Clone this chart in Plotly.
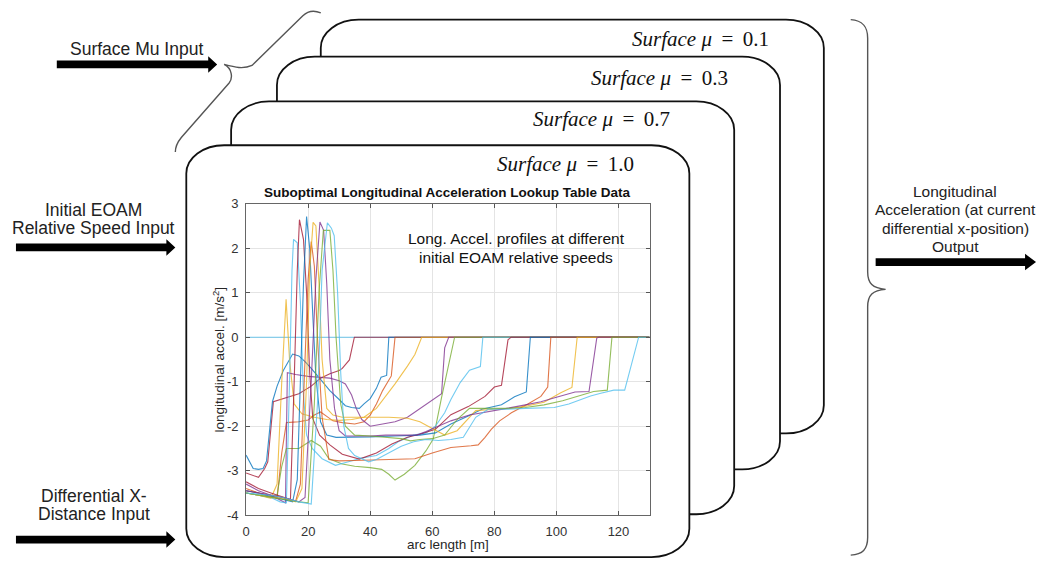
import plotly.graph_objects as go

W, H = 1040, 568

# ---------------- data ----------------
x_ticks = [0, 20, 40, 60, 80, 100, 120]
x_ticklabels = ["0", "20", "40", "60", "80", "100", "120"]
y_ticks = [-4, -3, -2, -1, 0, 1, 2, 3]
y_ticklabels = ["-4", "-3", "-2", "-1", "0", "1", "2", "3"]

zero_x = [0, 130]
zero_y = [0, 0]

s35_x = [0, 2, 4, 6, 7, 8.8, 13, 17, 21, 24, 27, 30, 31, 33.3, 34.9, 130]
s35_y = [-3.05, -3.1, -3.15, -2.95, -2.8, -1.45, -1.35, -1.27, -1.1, -0.92, -0.82, -0.75, -0.7, -0.51, 0, 0]

s46_x = [0, 2.3, 4, 5.5, 6.6, 8.5, 10, 12, 15, 17, 19, 21, 24, 27, 30, 32, 34, 36.5, 38, 40, 42, 43.5, 45.3, 46, 130]
s46_y = [-2.65, -2.95, -2.97, -2.95, -2.78, -1.45, -1.1, -0.75, -0.38, -0.42, -0.55, -0.7, -0.95, -1.2, -1.4, -1.54, -1.58, -1.6, -1.5, -1.38, -1.15, -0.9, -0.86, 0, 0]

s48_x = [0, 4, 8, 10, 11.5, 13, 17, 20, 22, 24, 26, 28, 31, 35, 38, 40, 42, 44, 46.8, 48, 130]
s48_y = [-3.45, -3.5, -3.6, -3.62, -2.6, -1.92, -1.9, -1.86, -1.75, -1.68, -1.78, -1.88, -1.92, -1.95, -1.9, -1.75, -1.5, -1.2, -0.87, 0, 0]

s57_x = [0, 4, 8, 10, 11.5, 12.9, 14, 15.5, 18, 22, 26, 30, 34, 38, 42, 46, 48, 52, 54.4, 56.6, 130]
s57_y = [-3.5, -3.55, -3.62, -3.3, -1.0, 0.85, -0.5, -1.5, -1.72, -1.8, -1.85, -1.87, -1.85, -1.8, -1.6, -1.25, -1.05, -0.65, -0.39, 0, 0]

s66_x = [0, 4, 8, 11, 12.7, 13.3, 16, 20, 24, 27, 30, 32, 34, 35.5, 37.3, 40, 44, 48, 52, 55, 59, 63, 64, 65.3, 130]
s66_y = [-3.3, -3.45, -3.55, -3.65, -3.72, -0.8, -0.84, -0.88, -0.9, -0.92, -0.98, -1.05, -1.3, -1.6, -1.85, -2.0, -1.95, -1.9, -1.8, -1.65, -1.45, -1.27, -0.24, 0, 0]

s67_x = [0, 4, 8, 10, 11.5, 13, 17, 21, 24, 26.7, 31, 35, 40, 43.7, 46, 48, 51, 54.4, 58, 60.3, 63, 67.2, 130]
s67_y = [-3.5, -3.55, -3.6, -3.55, -2.9, -2.5, -2.5, -2.32, -2.45, -2.73, -2.85, -2.9, -2.93, -2.97, -3.08, -3.21, -3.08, -2.88, -2.55, -2.29, -1.35, 0, 0]

s76_x = [0, 4, 8, 11, 13, 14, 14.8, 15.3, 16.5, 17.5, 18.5, 19.5, 21.3, 24.5, 28.8, 33, 37, 42, 46, 49, 54, 58, 61, 64, 66, 69, 72, 75.5, 76.3, 130]
s76_y = [-3.5, -3.55, -3.6, -3.7, -3.72, -1.0, 1.5, 2.2, 2.12, 0.8, -1.3, -2.2, -2.5, -2.73, -2.88, -2.8, -2.72, -2.66, -2.5, -2.35, -2.2, -2.15, -2.0, -1.7, -1.4, -1.02, -0.74, -0.66, 0, 0]

s85_x = [0, 4, 8, 12, 14.3, 15.5, 16.5, 17.2, 18.5, 19.5, 20.5, 21.5, 23.7, 27, 31, 36.5, 42, 47, 52, 56, 61, 66, 71.6, 77, 80, 82.3, 84.4, 85.4, 130]
s85_y = [-3.25, -3.4, -3.5, -3.6, -3.65, -1.0, 1.5, 2.64, 2.2, 1.0, -0.8, -1.83, -2.2, -2.42, -2.63, -2.74, -2.6, -2.4, -2.25, -2.18, -2.07, -1.74, -1.56, -1.33, -1.12, -1.08, -0.06, 0, 0]

s92_x = [0, 4, 8, 12, 15, 16.5, 17.5, 18.5, 19.5, 20.5, 21.5, 22.5, 24, 26, 29, 33, 40, 48, 56, 61, 66, 71.6, 76, 82.3, 86.5, 90.3, 91.6, 130]
s92_y = [-3.45, -3.5, -3.58, -3.65, -3.7, -3.2, -1.0, 1.2, 2.71, 2.0, 0.5, -0.9, -1.9, -2.2, -2.25, -2.25, -2.24, -2.22, -2.2, -2.15, -1.95, -1.77, -1.62, -1.52, -1.34, -1.23, 0, 0]

s98_x = [0, 4, 8, 12, 16, 17.5, 19, 20, 21, 22, 23, 24.5, 26.7, 30, 35, 40, 45, 50, 54.4, 60, 66, 72.5, 74.8, 77, 79, 81.7, 85.5, 90.8, 95, 97.2, 98.2, 130]
s98_y = [-3.4, -3.5, -3.55, -3.6, -3.68, -3.3, -0.5, 1.3, 2.15, 1.6, 0.0, -1.8, -2.75, -2.78, -2.77, -2.76, -2.75, -2.74, -2.73, -2.6, -2.48, -2.44, -2.42, -2.25, -2.07, -1.88, -1.7, -1.5, -1.33, -1.12, 0, 0]

s107_x = [0, 4, 8, 12, 16, 18, 19.5, 20.5, 21.6, 22.5, 23.5, 24.5, 26, 28, 31, 36, 40, 46, 52, 56, 60, 64, 68, 74, 80, 85, 90, 96, 101.4, 105, 106.7, 130]
s107_y = [-3.5, -3.55, -3.6, -3.62, -3.7, -3.4, -1.0, 1.5, 2.58, 2.5, 1.2, -0.5, -1.6, -1.75, -1.8, -1.8, -1.8, -1.8, -1.82, -1.9, -2.05, -2.2, -2.1, -1.65, -1.62, -1.6, -1.55, -1.46, -1.25, -1.13, 0, 0]

s114_x = [0, 4, 8, 12, 17, 19, 21, 22.5, 23.8, 25, 26, 27, 28.5, 30, 32, 36, 40, 45, 50, 55, 58, 62, 66, 72, 78, 84, 90, 95, 100, 104, 106, 110.5, 113, 113.7, 130]
s114_y = [-3.45, -3.5, -3.55, -3.6, -3.7, -3.6, -1.0, 1.3, 2.59, 2.4, 1.2, -0.5, -1.6, -2.1, -2.22, -2.22, -2.22, -2.2, -2.2, -2.2, -2.12, -2.0, -1.88, -1.75, -1.68, -1.6, -1.52, -1.45, -1.35, -1.27, -1.23, -1.22, -0.02, 0, 0]

s118_x = [0, 4, 8, 12, 17, 20, 22, 23.5, 24.9, 27, 28, 29, 30.5, 32, 35, 40, 45, 50, 53, 56, 60, 64, 68, 72, 78, 84, 90, 96, 102, 108, 112, 116.4, 117.9, 130]
s118_y = [-3.5, -3.55, -3.6, -3.65, -3.7, -3.72, -1.5, 1.0, 2.4, 2.4, 1.5, 0.0, -1.5, -2.0, -2.2, -2.22, -2.25, -2.28, -2.33, -2.3, -2.28, -2.2, -1.85, -1.6, -1.6, -1.6, -1.58, -1.52, -1.43, -1.3, -1.22, -1.19, 0, 0]

s127_x = [0, 4, 8, 12, 17, 21, 23, 24.5, 26.2, 27.5, 28.4, 29.5, 30.5, 31.5, 33, 35, 39.5, 42, 46, 50, 54, 58, 62, 66, 70, 74, 78, 84, 90, 96, 99.3, 104, 107.8, 111, 114.3, 118.5, 122, 126.5, 130]
s127_y = [-3.5, -3.52, -3.55, -3.6, -3.7, -3.75, -1.5, 1.5, 2.57, 2.45, 2.28, 1.0, -0.8, -2.0, -2.5, -2.66, -2.8, -2.75, -2.6, -2.45, -2.35, -2.3, -2.32, -2.3, -2.25, -1.8, -1.62, -1.62, -1.6, -1.59, -1.58, -1.5, -1.41, -1.32, -1.26, -1.19, -1.19, 0, 0]

MATLAB = {"blue": "#0072BD", "orange": "#D95319", "yellow": "#EDB120",
          "purple": "#7E2F8E", "green": "#77AC30", "lightblue": "#4DBEEE",
          "darkred": "#A2142F"}

series = [
    (zero_x, zero_y, "lightblue"),
    (s35_x, s35_y, "darkred"),
    (s46_x, s46_y, "blue"),
    (s48_x, s48_y, "orange"),
    (s57_x, s57_y, "yellow"),
    (s66_x, s66_y, "purple"),
    (s67_x, s67_y, "green"),
    (s76_x, s76_y, "lightblue"),
    (s85_x, s85_y, "darkred"),
    (s92_x, s92_y, "blue"),
    (s98_x, s98_y, "orange"),
    (s107_x, s107_y, "yellow"),
    (s114_x, s114_y, "purple"),
    (s118_x, s118_y, "green"),
    (s127_x, s127_y, "lightblue"),
]

card_labels = ["0.1", "0.3", "0.7", "1.0"]

# ---------------- figure ----------------
fig = go.Figure()
for xs, ys, c in series:
    fig.add_trace(go.Scatter(x=xs, y=ys, mode="lines",
                             line=dict(color=MATLAB[c], width=1.1),
                             opacity=0.78, showlegend=False, hoverinfo="skip"))


def pp(x, y):
    return f"{x / W:.5f},{1 - y / H:.5f}"


def rrect(x0, y0, x1, y1, rx, ry):
    k = 0.448
    return ("M" + pp(x0 + rx, y0) + " L" + pp(x1 - rx, y0) +
            " C" + pp(x1 - k * rx, y0) + " " + pp(x1, y0 + k * ry) + " " + pp(x1, y0 + ry) +
            " L" + pp(x1, y1 - ry) +
            " C" + pp(x1, y1 - k * ry) + " " + pp(x1 - k * rx, y1) + " " + pp(x1 - rx, y1) +
            " L" + pp(x0 + rx, y1) +
            " C" + pp(x0 + k * rx, y1) + " " + pp(x0, y1 - k * ry) + " " + pp(x0, y1 - ry) +
            " L" + pp(x0, y0 + ry) +
            " C" + pp(x0, y0 + k * ry) + " " + pp(x0 + k * rx, y0) + " " + pp(x0 + rx, y0) + " Z")


def arrow(x0, xh, x1, y, ht=4, hh=8.5):
    pts = [(x0, y - ht), (xh, y - ht), (xh, y - hh), (x1, y), (xh, y + hh), (xh, y + ht), (x0, y + ht)]
    return "M" + " L".join(pp(a, b) for a, b in pts) + " Z"


def curve(cmds):
    out = []
    for c, pts in cmds:
        out.append(c + " ".join(pp(a, b) for a, b in pts))
    return " ".join(out)


shapes = []
cards = [(318, 13, 823, 438), (274, 51, 779, 475), (228, 97, 733, 521), (183, 142, 688, 565)]
for (x0, y0, x1, y1) in cards:
    shapes.append(dict(type="path", xref="paper", yref="paper", layer="below",
                       path=rrect(x0, y0, x1, y1, 38, 29),
                       fillcolor="white", line=dict(color="#111111", width=1.8)))

left_brace = curve([("M", [(172, 149)]),
                    ("C", [(172, 143), (174, 139), (178, 134)]),
                    ("L", [(226, 78)]),
                    ("C", [(230, 73), (229, 63), (221, 59)]),
                    ("C", [(232, 62), (240, 64), (249, 60)]),
                    ("L", [(300, 9)]),
                    ("C", [(305, 4), (311, 3), (318, 6)])])
right_brace = curve([("M", [(850, 13)]),
                     ("C", [(862, 14), (867, 20), (867, 32)]),
                     ("L", [(867, 272)]),
                     ("C", [(867, 284), (872, 289), (885, 290)]),
                     ("C", [(872, 291), (867, 296), (867, 308)]),
                     ("L", [(867, 545)]),
                     ("C", [(867, 557), (862, 562), (850, 563)])])
for p in (left_brace, right_brace):
    shapes.append(dict(type="path", xref="paper", yref="paper", layer="below",
                       path=p, line=dict(color="#555555", width=1.4)))

for (x0, xh, x1, y) in [(53, 205, 214, 59), (12, 163, 172, 247), (12, 163, 172, 547), (875, 1025, 1036, 262)]:
    shapes.append(dict(type="path", xref="paper", yref="paper", layer="below",
                       path=arrow(x0, xh, x1, y), fillcolor="#000000", line=dict(width=0)))

SANS = "Liberation Sans, Arial, sans-serif"
SERIF = "Liberation Serif, Times New Roman, serif"


def ann(text, x, y, size, xanchor="center", family=SANS, color="#222222", angle=0):
    return dict(text=text, x=x / W, y=1 - y / H, xref="paper", yref="paper",
                xanchor=xanchor, yanchor="middle", showarrow=False, textangle=angle,
                font=dict(family=family, size=size, color=color))


annotations = [
    ann("Surface Mu Input", 133, 43, 17.5),
    ann("Initial EOAM", 90, 208, 17.5),
    ann("Relative Speed Input", 90, 227, 17.5),
    ann("Differential X-", 90, 502, 17.5),
    ann("Distance Input", 90, 521, 17.5),
    ann("Longitudinal", 955, 189, 15.5),
    ann("Acceleration (at current", 955, 208, 15.5),
    ann("differential x-position)", 955, 227, 15.5),
    ann("Output", 955, 246, 15.5),
    ann("<b>Suboptimal Longitudinal Acceleration Lookup Table Data</b>", 445, 191, 13.5, color="#111111"),
    ann("Long. Accel. profiles at different", 514, 238, 15.5, color="#111111"),
    ann("initial EOAM relative speeds", 514, 257, 15.5, color="#111111"),
    ann("arc length [m]", 446, 552, 13.5, color="#262626"),
    ann("longitudinal accel. [m/s<sup>2</sup>]", 216, 362, 13.5, color="#262626", angle=-90),
]
label_pos = [(770, 33), (729, 73), (671, 115), (634, 161)]
for lab, (lx, ly) in zip(card_labels, label_pos):
    annotations.append(ann("<i>Surface μ</i>\u2009 =\u2009 " + lab, lx, ly, 21,
                           xanchor="right", family=SERIF, color="#111111"))

axis_common = dict(ticks="inside", ticklen=4, tickcolor="#555555", showline=True,
                   linecolor="#666666", linewidth=1, mirror="ticks", showgrid=True,
                   gridcolor="#e4e4e4", gridwidth=1, zeroline=False,
                   tickfont=dict(family=SANS, size=13, color="#333333"), fixedrange=True)

fig.update_layout(
    width=W, height=H, margin=dict(l=0, r=0, t=0, b=0),
    paper_bgcolor="white", plot_bgcolor="rgba(0,0,0,0)",
    xaxis=dict(domain=[243 / W, 648 / W], range=[0, 130], tickmode="array",
               tickvals=x_ticks, ticktext=x_ticklabels, ticklabelstandoff=4, **axis_common),
    yaxis=dict(domain=[1 - 522 / H, 1 - 202 / H], range=[-4, 3], tickmode="array",
               tickvals=y_ticks, ticktext=y_ticklabels, ticklabelstandoff=4, **axis_common),
    shapes=shapes, annotations=annotations,
)

fig.write_html("out.html")
